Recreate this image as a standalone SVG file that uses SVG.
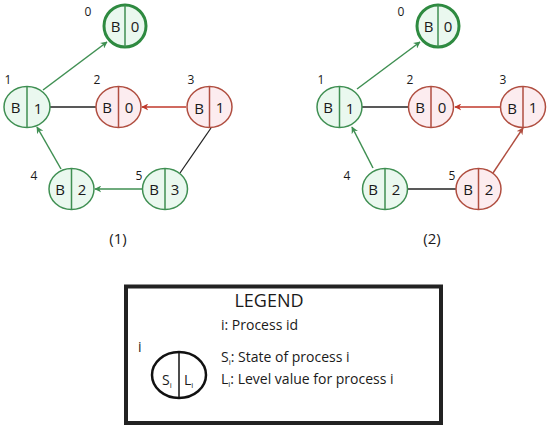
<svg xmlns="http://www.w3.org/2000/svg" width="550" height="429" viewBox="0 0 550 429">
<style>
  text { font-family: "Open Sans", "Liberation Sans", sans-serif; fill: #1a1a1a; }
  .g ellipse { fill: #eaf8ef; stroke: #3f8f52; stroke-width: 1.5; }
  .g line { stroke: #3f8f52; stroke-width: 1.5; }
  .r ellipse { fill: #fcecef; stroke: #b04e40; stroke-width: 1.5; }
  .r line { stroke: #b04e40; stroke-width: 1.5; }
  .root ellipse { stroke: #2e8a40; stroke-width: 3; }
  .v { font-size: 15px; text-anchor: middle; }
  .id { font-size: 12px; text-anchor: middle; }
  .lg { font-size: 14px; }
  .cg { stroke: #3f8f52; stroke-width: 1.5; fill: none; }
  .cr { stroke: #c0392b; stroke-width: 1.5; fill: none; }
  .cb { stroke: #222; stroke-width: 1.3; fill: none; }
</style>
<defs>
  <marker id="ag" viewBox="0 0 10 10" refX="9" refY="5" markerWidth="7" markerHeight="7" markerUnits="userSpaceOnUse" orient="auto">
    <path d="M0,0 L10,5 L0,10 L3,5 Z" fill="#3f8f52"/>
  </marker>
  <marker id="ar" viewBox="0 0 10 10" refX="9" refY="5" markerWidth="7" markerHeight="7" markerUnits="userSpaceOnUse" orient="auto">
    <path d="M0,0 L10,5 L0,10 L3,5 Z" fill="#c0392b"/>
  </marker>
  <marker id="ab" viewBox="0 0 10 10" refX="9" refY="5" markerWidth="7" markerHeight="7" markerUnits="userSpaceOnUse" orient="auto">
    <path d="M0,0 L10,5 L0,10 L3,5 Z" fill="#b04e40"/>
  </marker>
</defs>

<g id="connectors">
  <!-- panel 1 -->
  <line class="cg" x1="43" y1="90" x2="107" y2="42" marker-end="url(#ag)"/>
  <line class="cb" x1="50" y1="107" x2="96" y2="107"/>
  <line class="cr" x1="186" y1="107" x2="142" y2="107" marker-end="url(#ar)"/>
  <line class="cb" x1="211" y1="128" x2="180" y2="173"/>
  <line class="cg" x1="143" y1="189" x2="95" y2="189" marker-end="url(#ag)"/>
  <line class="cg" x1="61" y1="169" x2="37" y2="127" marker-end="url(#ag)"/>
  <!-- panel 2 -->
  <line class="cg" x1="357" y1="89" x2="420" y2="42" marker-end="url(#ag)"/>
  <line class="cb" x1="362" y1="107" x2="409" y2="107"/>
  <line class="cr" x1="500" y1="107" x2="455" y2="107" marker-end="url(#ar)"/>
  <line class="cg" x1="373" y1="168" x2="352" y2="127" marker-end="url(#ag)"/>
  <line class="cb" x1="408" y1="189" x2="456" y2="189"/>
  <line class="cr" x1="493" y1="173" x2="523" y2="128" marker-end="url(#ab)" style="stroke:#b04e40"/>
</g>

<!-- Panel 1 nodes -->
<g id="p1n0" class="g root">
  <ellipse cx="125" cy="26" rx="21" ry="21"/><line x1="125" y1="5" x2="125" y2="47"/>
  <text class="v" x="115.5" y="31.5">B</text><text class="v" x="135" y="31.5">0</text>
  <text class="id" x="88" y="16">0</text>
</g>
<g id="p1n1" class="g">
  <ellipse cx="27" cy="107" rx="23" ry="20.5"/><line x1="27" y1="86.5" x2="27" y2="127.5"/>
  <text class="v" x="15.5" y="112.5">B</text><text class="v" x="38" y="114">1</text>
  <text class="id" x="8" y="84">1</text>
</g>
<g id="p1n2" class="r">
  <ellipse cx="118.5" cy="107" rx="22.5" ry="20.5"/><line x1="118.5" y1="86.5" x2="118.5" y2="127.5"/>
  <text class="v" x="107" y="112.5">B</text><text class="v" x="129" y="112.5">0</text>
  <text class="id" x="97" y="84">2</text>
</g>
<g id="p1n3" class="r">
  <ellipse cx="209.5" cy="107" rx="22.5" ry="20.5"/><line x1="209.5" y1="86.5" x2="209.5" y2="127.5"/>
  <text class="v" x="199" y="114">B</text><text class="v" x="220" y="112.5">1</text>
  <text class="id" x="191" y="84">3</text>
</g>
<g id="p1n4" class="g">
  <ellipse cx="71.5" cy="189" rx="22.5" ry="20.5"/><line x1="71.5" y1="168.5" x2="71.5" y2="209.5"/>
  <text class="v" x="60" y="194.5">B</text><text class="v" x="82" y="194.5">2</text>
  <text class="id" x="34" y="180">4</text>
</g>
<g id="p1n5" class="g">
  <ellipse cx="165" cy="189" rx="22.5" ry="20.5"/><line x1="165" y1="168.5" x2="165" y2="209.5"/>
  <text class="v" x="154" y="194.5">B</text><text class="v" x="175" y="194.5">3</text>
  <text class="id" x="139" y="180">5</text>
</g>
<text x="118" y="244" style="font-size:15px;text-anchor:middle">(1)</text>

<!-- Panel 2 nodes -->
<g id="p2n0" class="g root">
  <ellipse cx="438" cy="26" rx="21" ry="21"/><line x1="438" y1="5" x2="438" y2="47"/>
  <text class="v" x="428.5" y="31.5">B</text><text class="v" x="448" y="31.5">0</text>
  <text class="id" x="401" y="16">0</text>
</g>
<g id="p2n1" class="g">
  <ellipse cx="339.5" cy="107" rx="22.5" ry="20.5"/><line x1="339.5" y1="86.5" x2="339.5" y2="127.5"/>
  <text class="v" x="328" y="112.5">B</text><text class="v" x="350" y="114">1</text>
  <text class="id" x="321" y="84">1</text>
</g>
<g id="p2n2" class="r">
  <ellipse cx="431" cy="107" rx="22.5" ry="20.5"/><line x1="431" y1="86.5" x2="431" y2="127.5"/>
  <text class="v" x="420" y="112.5">B</text><text class="v" x="442" y="112.5">0</text>
  <text class="id" x="410" y="84">2</text>
</g>
<g id="p2n3" class="r">
  <ellipse cx="523" cy="107" rx="22.5" ry="20.5"/><line x1="523" y1="86.5" x2="523" y2="127.5"/>
  <text class="v" x="512" y="114">B</text><text class="v" x="533" y="112.5">1</text>
  <text class="id" x="503" y="84">3</text>
</g>
<g id="p2n4" class="g">
  <ellipse cx="385" cy="189" rx="22.5" ry="20.5"/><line x1="385" y1="168.5" x2="385" y2="209.5"/>
  <text class="v" x="373" y="194.5">B</text><text class="v" x="396" y="194.5">2</text>
  <text class="id" x="347" y="180">4</text>
</g>
<g id="p2n5" class="r">
  <ellipse cx="478.5" cy="189" rx="22.5" ry="20.5"/><line x1="478.5" y1="168.5" x2="478.5" y2="209.5"/>
  <text class="v" x="468" y="194.5">B</text><text class="v" x="489" y="194.5">2</text>
  <text class="id" x="452" y="180">5</text>
</g>
<text x="432" y="244" style="font-size:15px;text-anchor:middle">(2)</text>

<!-- Legend -->
<g id="legend">
  <rect x="126" y="286.5" width="315" height="136.5" fill="#fff" stroke="#222" stroke-width="4"/>
  <text x="269" y="307" style="font-size:18px;text-anchor:middle">LEGEND</text>
  <text class="lg" x="221" y="330">i: Process id</text>
  <text class="lg" x="138" y="352">i</text>
  <ellipse cx="179" cy="375" rx="27" ry="23" fill="#fff" stroke="#111" stroke-width="2.5"/>
  <line x1="179" y1="352" x2="179" y2="398" stroke="#111" stroke-width="1.5"/>
  <text class="lg" x="162" y="385">S<tspan dy="3" style="font-size:8px">i</tspan></text>
  <text class="lg" x="184" y="385">L<tspan dy="3" style="font-size:8px">i</tspan></text>
  <text class="lg" x="221" y="362">S<tspan dy="3" style="font-size:8px">i</tspan><tspan dy="-3">: State of process i</tspan></text>
  <text class="lg" x="221" y="384">L<tspan dy="3" style="font-size:8px">i</tspan><tspan dy="-3">: Level value for process i</tspan></text>
</g>
</svg>
